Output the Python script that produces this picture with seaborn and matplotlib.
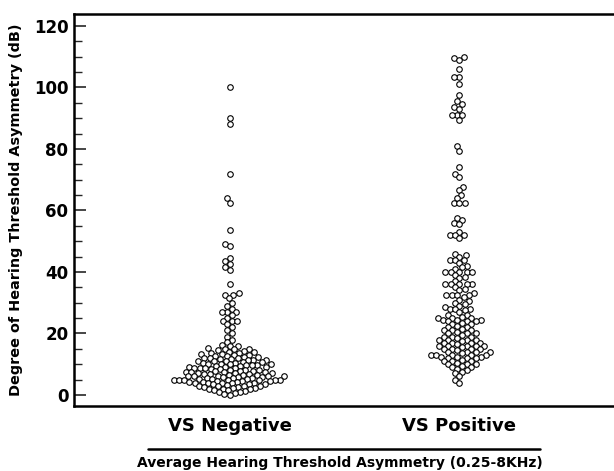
import matplotlib
matplotlib.use("Agg")
import matplotlib.pyplot as plt
from matplotlib.lines import Line2D
import seaborn as sns
import pandas as pd

categories = ["VS Negative", "VS Positive"]

neg_tail = [100, 90, 88, 72, 64, 62.5, 53.5, 49, 48.5, 44.5, 43.5, 42.5, 41.5,
            40.5, 36, 33, 32.5, 32.5, 31.5, 30, 29, 28, 27, 27, 27, 26, 25,
            24, 24, 24, 23, 22, 21, 20, 19, 18]
neg_core = [17.2, 16.3, 16, 15.8, 15.2, 15, 15, 14.8, 14.6,
            14.2, 14, 14, 13.8, 13.6, 13.4, 13.2, 13, 13, 12.8, 12.6, 12.4,
            12.2, 12, 12, 11.9, 11.8, 11.6, 11.5, 11.3, 11.2, 11, 11, 10.9,
            10.8, 10.6, 10.5, 10.3, 10.2, 10, 10, 9.9, 9.8, 9.7, 9.6, 9.5,
            9.4, 9.2, 9, 9, 8.9, 8.8, 8.7, 8.6, 8.5, 8.4, 8.2, 8, 8, 7.9,
            7.8, 7.7, 7.6, 7.5, 7.4, 7.3, 7.2, 7, 7, 6.9, 6.8, 6.7, 6.6,
            6.5, 6.4, 6.3, 6.2, 6.1, 6, 6, 5.9, 5.8, 5.7, 5.6, 5.5, 5.4,
            5.3, 5.2, 5.1, 5, 5, 5, 5, 4.9, 4.8, 4.7, 4.6, 4.5, 4.4, 4.3,
            4.2, 4.1, 4, 4, 4, 3.9, 3.8, 3.6, 3.5, 3.4, 3.2, 3, 3, 2.9,
            2.8, 2.6, 2.5, 2.3, 2.2, 2, 2, 1.8, 1.6, 1.5, 1.2, 1, 0.8,
            0.5, 0.3, 0]
pos_tail = [110, 109.5, 109, 106, 103.5, 103.5, 101, 97.5, 95.5, 94.5, 93.5,
            93, 91, 91, 91, 89.5, 81, 79.5, 74, 72, 71, 67.5, 66.5, 65, 64,
            62.5, 62.5, 62.5, 57.5, 57, 56, 55.5, 53, 52, 52, 52, 51]
pos_mid = [46, 45.5, 45, 44, 44, 44, 43, 42, 41.5, 41, 40, 40, 40, 40, 40,
           39, 38.5, 38, 37, 36, 36, 36, 36, 36, 35, 34.5, 34, 33, 32.5,
           32.5, 32.5, 32.5, 32, 31, 30.5, 30, 29.5, 29, 28.5, 28, 28, 28,
           27.5, 27, 26, 26, 25.5, 25, 25, 25, 24.5, 24.5, 24.5, 24, 24, 24]
pos_low = [23.5, 23, 23, 22.5, 22, 22, 21.5, 21, 21, 21, 20.5, 20, 20, 20,
           19.5, 19, 19, 19, 18.5, 18, 18, 18, 18, 17.5, 17, 17, 17, 17,
           16.5, 16, 16, 16, 16, 16, 15.5, 15, 15, 15, 15, 14.5, 14, 14, 14,
           14, 13.5, 13, 13, 13, 13, 13, 12.5, 12.5, 12.5, 12, 12, 12, 11.5,
           11, 11, 11, 10.5, 10, 10, 10, 9.5, 9, 9, 8.5, 8, 7.5, 7, 6, 5, 4]

neg_vals = neg_tail + neg_core
pos_vals = pos_tail + pos_mid + pos_low
df = pd.DataFrame({
    "group": [categories[0]] * len(neg_vals) + [categories[1]] * len(pos_vals),
    "value": neg_vals + pos_vals,
})

sns.set_theme(style="white")
plt.rcParams["font.family"] = ["DejaVu Sans"]

fig = plt.figure(figsize=(6.14, 4.71), dpi=100)
ax = fig.add_axes([74 / 614, 65 / 471, 1 - 74 / 614 + 0.01, 392 / 471])

# lay the swarm out with a small marker, then show slightly larger
# (overlapping) markers, as in the reference dot plot
sns.swarmplot(data=df, x="group", y="value", order=categories, ax=ax,
              size=2.9, color="white", edgecolor="black", linewidth=0.8)

ax.set_xlim(-0.678, 1.70)
ax.set_ylim(-3.6, 123.9)
ax.set_yticks([0, 20, 40, 60, 80, 100, 120])
ax.set_yticks(range(0, 121, 5), minor=True)
ax.tick_params(axis="y", which="major", direction="in", length=8.5, width=1.2,
               labelsize=12, pad=4, left=True)
ax.tick_params(axis="y", which="minor", direction="in", length=5.5, width=1.0,
               left=True)
ax.tick_params(axis="x", length=0, labelsize=13, pad=8)
for lbl in ax.get_yticklabels() + ax.get_xticklabels():
    lbl.set_fontweight("bold")
    lbl.set_color("black")

ax.set_xlabel("")
ax.set_ylabel("Degree of Hearing Threshold Asymmetry (dB)", fontsize=10.4,
              fontweight="bold", color="black", labelpad=8)

for side in ["left", "bottom", "top"]:
    ax.spines[side].set_color("black")
    ax.spines[side].set_linewidth(1.8)
ax.spines["right"].set_visible(False)

fig.add_artist(Line2D([148 / 614, 540 / 614], [1 - 449 / 471, 1 - 449 / 471],
                      color="black", linewidth=1.8, transform=fig.transFigure))
fig.text(340 / 614, 1 - 463 / 471, "Average Hearing Threshold Asymmetry (0.25-8KHz)",
         ha="center", va="center", fontsize=10, fontweight="bold", color="black")

fig.canvas.draw()
for coll in ax.collections:
    if "draw" in coll.__dict__:
        del coll.draw
    coll.set_sizes([4.0 ** 2])

fig.savefig("out.png", dpi=100)
